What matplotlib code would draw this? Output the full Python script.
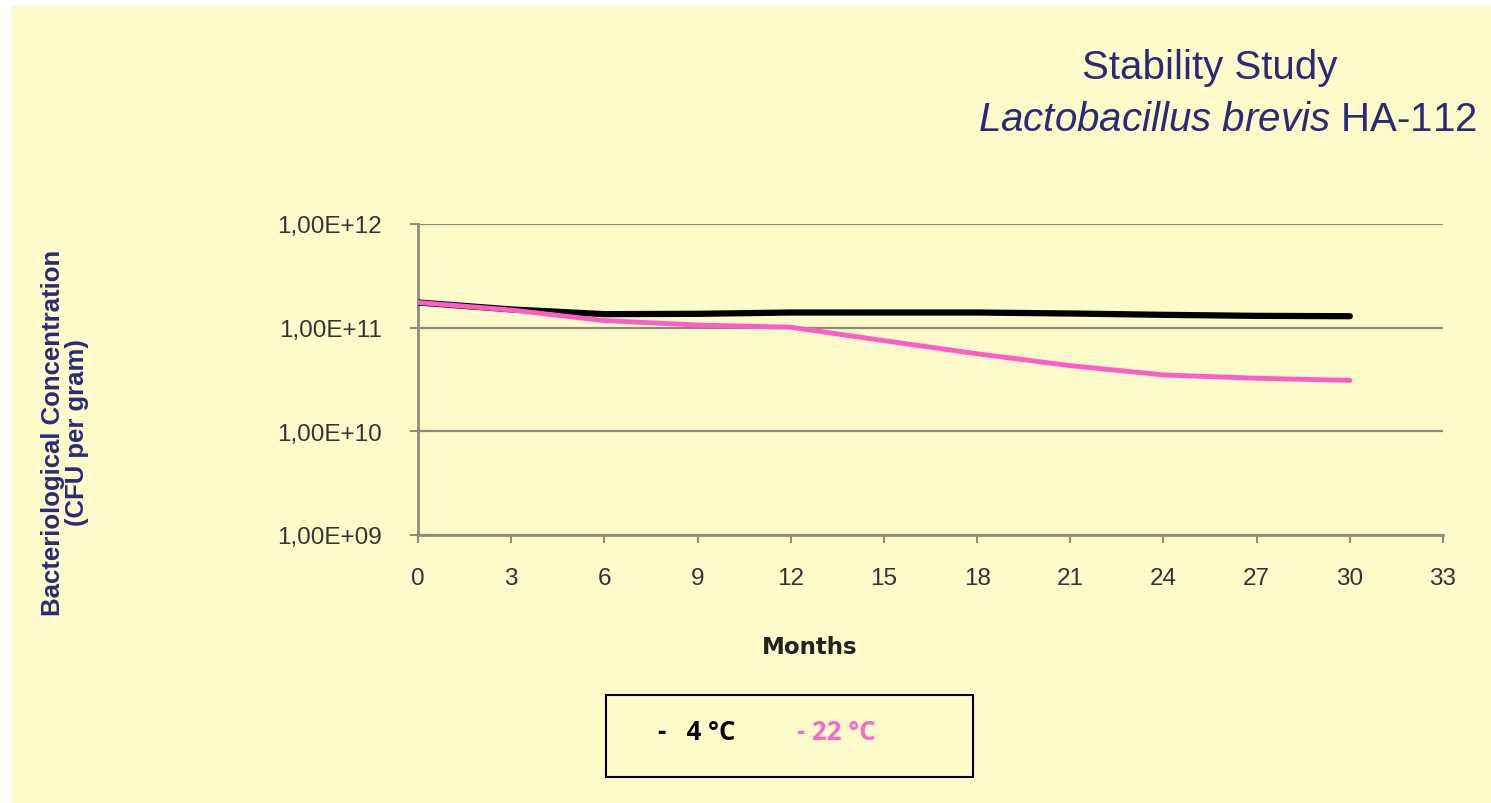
import matplotlib
matplotlib.use('Agg')
import matplotlib.pyplot as plt
from matplotlib.patches import Rectangle
from matplotlib.ticker import FixedLocator, NullLocator

# data (months, CFU per gram)
months = [0, 3, 6, 9, 12, 15, 18, 21, 24, 27, 30]
cfu_4c = [1.75e11, 1.50e11, 1.35e11, 1.36e11, 1.40e11, 1.40e11, 1.40e11,
          1.37e11, 1.33e11, 1.30e11, 1.29e11]
cfu_22c = [1.75e11, 1.48e11, 1.17e11, 1.06e11, 1.01e11, 7.5e10, 5.6e10,
           4.3e10, 3.5e10, 3.25e10, 3.1e10]
y_ticks = [1e9, 1e10, 1e11, 1e12]
y_tick_labels = ['1,00E+09', '1,00E+10', '1,00E+11', '1,00E+12']
x_ticks = list(range(0, 34, 3))

plt.rcParams['mathtext.fontset'] = 'custom'
plt.rcParams['mathtext.rm'] = 'Liberation Sans'
plt.rcParams['mathtext.it'] = 'Liberation Sans:italic'

bg = '#FEFBCB'
navy = '#2A2A78'
pink = '#FF5CC8'
grid_col = '#8E8C78'

fig = plt.figure(figsize=(14.91, 8.04), dpi=100, facecolor='white')
# pale yellow slide background, leaving the thin white border
fig.add_artist(Rectangle((12 / 1491, 0), 1, 1 - 7 / 804, transform=fig.transFigure,
                         facecolor=bg, edgecolor='none', zorder=-10))

ax = fig.add_axes([418 / 1491, 1 - 536 / 804, (1443 - 418) / 1491, (536 - 225) / 804])
ax.set_facecolor('none')
ax.plot(months, cfu_4c, color='black', lw=4.5, solid_capstyle='round', zorder=3)
ax.plot(months, cfu_22c, color=pink, lw=3.5, solid_capstyle='round', zorder=3)

ax.set_yscale('log')
ax.set_ylim(1e9, 1e12)
ax.set_xlim(0, 33)
ax.yaxis.set_major_locator(FixedLocator(y_ticks))
ax.yaxis.set_minor_locator(NullLocator())
ax.set_yticklabels(y_tick_labels)
ax.set_xticks(x_ticks)

for t in ax.get_xticklabels() + ax.get_yticklabels():
    t.set_fontfamily('Liberation Sans')
    t.set_fontsize(17.5)
    t.set_color('#333333')
ax.tick_params(axis='x', length=6, width=1.5, color=grid_col, pad=17)
ax.tick_params(axis='y', length=6, width=1.5, color=grid_col, pad=20)

ax.grid(axis='y', color=grid_col, lw=1.6)
ax.set_axisbelow(True)
for s in ['top', 'right']:
    ax.spines[s].set_visible(False)
for s in ['left', 'bottom']:
    ax.spines[s].set_color(grid_col)
    ax.spines[s].set_linewidth(2)

# titles
fig.text(1210 / 1491, 1 - 68 / 804, 'Stability Study', ha='center', va='center',
         color=navy, fontsize=29, family='Liberation Sans')
fig.text(1477 / 1491, 1 - 120 / 804,
         r'$\mathit{Lactobacillus\ brevis}$ HA-112', ha='right', va='center',
         color=navy, fontsize=29, family='Liberation Sans')

# axis labels
fig.text(65 / 1491, 1 - 433 / 804, 'Bacteriological Concentration\n(CFU per gram)',
         rotation=90, ha='center', va='center', ma='center', color=navy,
         fontsize=18.5, fontweight='bold', family='Liberation Sans', linespacing=1.05)
fig.text(810 / 1491, 1 - 648 / 804, 'Months', ha='center', va='center',
         color='#222222', fontsize=16.5, fontweight='bold', family='DejaVu Sans')

# legend box
fig.add_artist(Rectangle((606 / 1491, 1 - 778 / 804), (973 - 606) / 1491, (778 - 696) / 804,
                         transform=fig.transFigure, facecolor='none',
                         edgecolor='black', lw=1.5))
fig.text(658 / 1491, 1 - 733 / 804, '-   4 °C', ha='left', va='center',
         color='black', fontsize=18.5, fontweight='bold', family='Open Sans')
fig.text(797 / 1491, 1 - 733 / 804, '- 22 °C', ha='left', va='center',
         color='#FF66CC', fontsize=18.5, fontweight='bold', family='Open Sans')

fig.savefig('out.png', dpi=100, facecolor='white')
